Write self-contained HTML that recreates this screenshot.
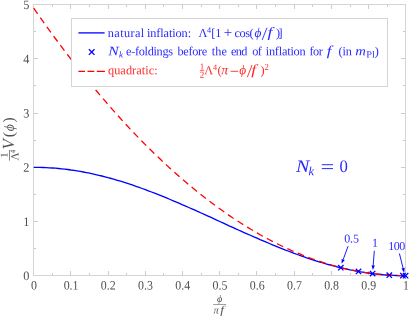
<!DOCTYPE html>
<html><head><meta charset="utf-8"><title>plot</title>
<style>
html,body{margin:0;padding:0;background:#fff;}
body{width:415px;height:316px;overflow:hidden;font-family:"Liberation Serif",serif;}
svg{display:block;will-change:transform;}
</style></head><body>
<svg width="415" height="316" viewBox="0 0 415 316">
<rect width="415" height="316" fill="#fff"/>
<path d="M33.5 275.5v-4.5M33.5 4.5v4.5M52.5 275.5v-2.5M52.5 4.5v2.5M70.5 275.5v-4.5M70.5 4.5v4.5M89.5 275.5v-2.5M89.5 4.5v2.5M108.5 275.5v-4.5M108.5 4.5v4.5M126.5 275.5v-2.5M126.5 4.5v2.5M145.5 275.5v-4.5M145.5 4.5v4.5M163.5 275.5v-2.5M163.5 4.5v2.5M182.5 275.5v-4.5M182.5 4.5v4.5M201.5 275.5v-2.5M201.5 4.5v2.5M219.5 275.5v-4.5M219.5 4.5v4.5M238.5 275.5v-2.5M238.5 4.5v2.5M256.5 275.5v-4.5M256.5 4.5v4.5M275.5 275.5v-2.5M275.5 4.5v2.5M294.5 275.5v-4.5M294.5 4.5v4.5M312.5 275.5v-2.5M312.5 4.5v2.5M331.5 275.5v-4.5M331.5 4.5v4.5M350.5 275.5v-2.5M350.5 4.5v2.5M368.5 275.5v-4.5M368.5 4.5v4.5M387.5 275.5v-2.5M387.5 4.5v2.5M405.5 275.5v-4.5M405.5 4.5v4.5M33.5 275.5h4.5M405.5 275.5h-4.5M33.5 248.5h2.5M405.5 248.5h-2.5M33.5 221.5h4.5M405.5 221.5h-4.5M33.5 194.5h2.5M405.5 194.5h-2.5M33.5 167.5h4.5M405.5 167.5h-4.5M33.5 140.5h2.5M405.5 140.5h-2.5M33.5 113.5h4.5M405.5 113.5h-4.5M33.5 85.5h2.5M405.5 85.5h-2.5M33.5 58.5h4.5M405.5 58.5h-4.5M33.5 31.5h2.5M405.5 31.5h-2.5M33.5 4.5h4.5M405.5 4.5h-4.5" stroke="rgba(0,0,0,0.2)" stroke-width="1" fill="none"/>
<rect x="33.5" y="4.5" width="372.0" height="271.0" fill="none" stroke="#d5d5d5" stroke-width="1"/>
<path d="M33.7 167.3L36.8 167.3L39.9 167.4L43.0 167.5L46.1 167.6L49.2 167.8L52.3 168.0L55.4 168.2L58.5 168.5L61.6 168.8L64.7 169.1L67.8 169.5L70.9 170.0L74.0 170.4L77.1 170.9L80.2 171.4L83.3 172.0L86.4 172.6L89.5 173.2L92.6 173.9L95.7 174.6L98.8 175.3L101.9 176.0L105.0 176.8L108.1 177.7L111.2 178.5L114.3 179.4L117.4 180.3L120.5 181.2L123.6 182.2L126.7 183.2L129.8 184.2L132.9 185.2L136.0 186.3L139.1 187.4L142.2 188.5L145.3 189.6L148.4 190.8L151.5 192.0L154.6 193.2L157.8 194.4L160.9 195.6L164.0 196.9L167.1 198.2L170.2 199.5L173.3 200.8L176.4 202.1L179.5 203.4L182.6 204.8L185.7 206.1L188.8 207.5L191.9 208.8L195.0 210.2L198.1 211.6L201.2 213.0L204.3 214.4L207.4 215.8L210.5 217.2L213.6 218.7L216.7 220.1L219.8 221.5L222.9 222.9L226.0 224.3L229.1 225.8L232.2 227.2L235.3 228.6L238.4 230.0L241.5 231.4L244.6 232.8L247.7 234.2L250.8 235.5L253.9 236.9L257.0 238.2L260.1 239.6L263.2 240.9L266.3 242.2L269.4 243.5L272.5 244.8L275.6 246.1L278.7 247.4L281.8 248.6L284.9 249.8L288.0 251.0L291.1 252.2L294.2 253.4L297.3 254.5L300.4 255.6L303.5 256.7L306.6 257.8L309.7 258.8L312.8 259.8L315.9 260.8L319.0 261.8L322.1 262.7L325.2 263.6L328.3 264.5L331.4 265.3L334.5 266.2L337.6 267.0L340.7 267.7L343.8 268.4L346.9 269.1L350.0 269.8L353.1 270.4L356.2 271.0L359.3 271.6L362.4 272.1L365.5 272.6L368.6 273.0L371.7 273.5L374.8 273.9L377.9 274.2L381.0 274.5L384.1 274.8L387.2 275.0L390.3 275.2L393.4 275.4L396.5 275.5L399.6 275.6L402.7 275.7L405.8 275.7" stroke="#00f" stroke-width="1.3" fill="none"/>
<path d="M33.7 8.2L36.8 12.7L39.9 17.1L43.0 21.4L46.1 25.8L49.2 30.1L52.3 34.3L55.4 38.5L58.5 42.7L61.6 46.8L64.7 51.0L67.8 55.0L70.9 59.1L74.0 63.0L77.1 67.0L80.2 70.9L83.3 74.8L86.4 78.6L89.5 82.5L92.6 86.2L95.7 90.0L98.8 93.7L101.9 97.3L105.0 100.9L108.1 104.5L111.2 108.1L114.3 111.6L117.4 115.1L120.5 118.5L123.6 121.9L126.7 125.3L129.8 128.6L132.9 131.9L136.0 135.1L139.1 138.3L142.2 141.5L145.3 144.6L148.4 147.7L151.5 150.8L154.6 153.8L157.8 156.8L160.9 159.8L164.0 162.7L167.1 165.6L170.2 168.4L173.3 171.2L176.4 174.0L179.5 176.7L182.6 179.4L185.7 182.1L188.8 184.7L191.9 187.3L195.0 189.8L198.1 192.3L201.2 194.8L204.3 197.2L207.4 199.6L210.5 202.0L213.6 204.3L216.7 206.6L219.8 208.8L222.9 211.0L226.0 213.2L229.1 215.4L232.2 217.5L235.3 219.5L238.4 221.5L241.5 223.5L244.6 225.5L247.7 227.4L250.8 229.3L253.9 231.1L257.0 232.9L260.1 234.7L263.2 236.4L266.3 238.1L269.4 239.7L272.5 241.4L275.6 242.9L278.7 244.5L281.8 246.0L284.9 247.4L288.0 248.9L291.1 250.3L294.2 251.6L297.3 252.9L300.4 254.2L303.5 255.5L306.6 256.7L309.7 257.9L312.8 259.0L315.9 260.1L319.0 261.1L322.1 262.2L325.2 263.1L328.3 264.1L331.4 265.0L334.5 265.9L337.6 266.7L340.7 267.5L343.8 268.3L346.9 269.0L350.0 269.7L353.1 270.3L356.2 270.9L359.3 271.5L362.4 272.1L365.5 272.6L368.6 273.0L371.7 273.5L374.8 273.8L377.9 274.2L381.0 274.5L384.1 274.8L387.2 275.0L390.3 275.2L393.4 275.4L396.5 275.5L399.6 275.6L402.7 275.7L405.8 275.7" stroke="#f00" stroke-width="1.3" fill="none" stroke-dasharray="6.8 4.6"/>
<path d="M338.1 265.0l5.4 5.4M338.1 270.4l5.4 -5.4" stroke="#00f" stroke-width="1.3" fill="none"/>
<path d="M355.8 268.7l5.4 5.4M355.8 274.1l5.4 -5.4" stroke="#00f" stroke-width="1.3" fill="none"/>
<path d="M369.9 270.9l5.4 5.4M369.9 276.3l5.4 -5.4" stroke="#00f" stroke-width="1.3" fill="none"/>
<path d="M386.6 272.5l5.4 5.4M386.6 277.9l5.4 -5.4" stroke="#00f" stroke-width="1.3" fill="none"/>
<path d="M400.2 273.0l5.4 5.4M400.2 278.4l5.4 -5.4" stroke="#00f" stroke-width="1.3" fill="none"/>
<path d="M402.9 273.0l5.4 5.4M402.9 278.4l5.4 -5.4" stroke="#00f" stroke-width="1.3" fill="none"/>
<path d="M348.1 246.2L343.2 259.5" stroke="#00f" stroke-width="0.9" fill="none"/><path d="M341.6 263.8L341.6 258.9L344.8 260.1Z" fill="#00f"/>
<path d="M374.3 250.8L373.2 265.4" stroke="#00f" stroke-width="0.9" fill="none"/><path d="M372.9 270.0L371.5 265.3L374.9 265.5Z" fill="#00f"/>
<path d="M399.4 253.5L403.1 268.2" stroke="#00f" stroke-width="0.9" fill="none"/><path d="M404.2 272.7L401.4 268.6L404.7 267.8Z" fill="#00f"/>
<rect x="71.5" y="18.5" width="316" height="68" fill="#fff" stroke="#d5d5d5" stroke-width="1"/>
<path d="M78.4 32.9H104.6" stroke="#00f" stroke-width="1.3"/>
<path d="M78.4 71.4H104.9" stroke="#f00" stroke-width="1.3" stroke-dasharray="6.6 2.5 6.8 2.5 8.4"/>
<path d="M88.9 49.3l5.6 5.6M88.9 54.9l5.6 -5.6" stroke="#00f" stroke-width="1.3" fill="none"/>
<g font-family="Liberation Serif, serif" >
<text transform="translate(33.9 289.4) rotate(0.06) scale(0.93 1)" font-size="12.8" fill="#505050" text-anchor="middle">0</text>
<text transform="translate(71.1 289.4) rotate(0.06) scale(0.93 1)" font-size="12.8" fill="#505050" text-anchor="middle">0.1</text>
<text transform="translate(108.3 289.4) rotate(0.06) scale(0.93 1)" font-size="12.8" fill="#505050" text-anchor="middle">0.2</text>
<text transform="translate(145.5 289.4) rotate(0.06) scale(0.93 1)" font-size="12.8" fill="#505050" text-anchor="middle">0.3</text>
<text transform="translate(182.8 289.4) rotate(0.06) scale(0.93 1)" font-size="12.8" fill="#505050" text-anchor="middle">0.4</text>
<text transform="translate(220.0 289.4) rotate(0.06) scale(0.93 1)" font-size="12.8" fill="#505050" text-anchor="middle">0.5</text>
<text transform="translate(257.2 289.4) rotate(0.06) scale(0.93 1)" font-size="12.8" fill="#505050" text-anchor="middle">0.6</text>
<text transform="translate(294.4 289.4) rotate(0.06) scale(0.93 1)" font-size="12.8" fill="#505050" text-anchor="middle">0.7</text>
<text transform="translate(331.6 289.4) rotate(0.06) scale(0.93 1)" font-size="12.8" fill="#505050" text-anchor="middle">0.8</text>
<text transform="translate(368.8 289.4) rotate(0.06) scale(0.93 1)" font-size="12.8" fill="#505050" text-anchor="middle">0.9</text>
<text transform="translate(406.0 289.4) rotate(0.06) scale(0.93 1)" font-size="12.8" fill="#505050" text-anchor="middle">1</text>
<text transform="translate(29.4 280.1) rotate(0.06) scale(0.96 1)" font-size="12.8" fill="#505050" text-anchor="end">0</text>
<text transform="translate(29.4 225.9) rotate(0.06) scale(0.96 1)" font-size="12.8" fill="#505050" text-anchor="end">1</text>
<text transform="translate(29.4 171.7) rotate(0.06) scale(0.96 1)" font-size="12.8" fill="#505050" text-anchor="end">2</text>
<text transform="translate(29.4 117.5) rotate(0.06) scale(0.96 1)" font-size="12.8" fill="#505050" text-anchor="end">3</text>
<text transform="translate(29.4 63.3) rotate(0.06) scale(0.96 1)" font-size="12.8" fill="#505050" text-anchor="end">4</text>
<text transform="translate(29.4 9.1) rotate(0.06) scale(0.96 1)" font-size="12.8" fill="#505050" text-anchor="end">5</text>
<text transform="translate(107.8 36.9) rotate(0.06)" font-size="12.3" fill="#2a2aff" textLength="36.4" lengthAdjust="spacing">natural</text>
<text transform="translate(147.0 36.9) rotate(0.06)" font-size="12.3" fill="#2a2aff" textLength="44.1" lengthAdjust="spacing">inflation:</text>
<text transform="translate(198.6 36.9) rotate(0.06)" font-size="12.3" fill="#2a2aff">Λ</text>
<text transform="translate(207.0 32.7) rotate(0.06)" font-size="8.2" fill="#2a2aff">4</text>
<text transform="translate(211.2 36.9) rotate(0.06)" font-size="12.3" fill="#2a2aff">[1</text>
<text transform="translate(223.8 37.5) rotate(0.06)" font-size="14.9" fill="#2a2aff">+</text>
<text transform="translate(234.4 36.9) rotate(0.06)" font-size="12.3" fill="#2a2aff" textLength="15.6" lengthAdjust="spacing">cos</text>
<text transform="translate(249.6 36.9) rotate(0.06)" font-size="12.3" fill="#2a2aff">(</text>
<text transform="translate(254.6 36.9) rotate(0.06)" font-size="13.3" fill="#2a2aff" font-style="italic">ϕ</text>
<path d="M262.2 39.9L267.0 27.7" stroke="#2a2aff" stroke-width="0.9" fill="none"/>
<text transform="translate(267.6 36.9) rotate(0.06) scale(1.25 1)" font-size="14.3" fill="#2a2aff" font-style="italic">f</text>
<text transform="translate(276.0 36.9) rotate(0.06)" font-size="12.3" fill="#2a2aff">)</text>
<text transform="translate(278.4 36.9) rotate(0.06)" font-size="12.3" fill="#2a2aff">]</text>
<text transform="translate(108.2 55.2) rotate(0.06) scale(1.22 1)" font-size="12.9" fill="#2a2aff" font-style="italic">N</text>
<text transform="translate(118.9 57.6) rotate(0.06)" font-size="9" fill="#2a2aff" font-style="italic">k</text>
<text transform="translate(126.1 55.2) rotate(0.06)" font-size="12.3" fill="#2a2aff" textLength="46.9" lengthAdjust="spacing">e-foldings</text>
<text transform="translate(177.4 55.2) rotate(0.06)" font-size="12.3" fill="#2a2aff" textLength="29.9" lengthAdjust="spacing">before</text>
<text transform="translate(211.7 55.2) rotate(0.06)" font-size="12.3" fill="#2a2aff" textLength="15.3" lengthAdjust="spacing">the</text>
<text transform="translate(231.0 55.2) rotate(0.06)" font-size="12.3" fill="#2a2aff" textLength="16.5" lengthAdjust="spacing">end</text>
<text transform="translate(252.2 55.2) rotate(0.06)" font-size="12.3" fill="#2a2aff" textLength="9.6" lengthAdjust="spacing">of</text>
<text transform="translate(265.7 55.2) rotate(0.06)" font-size="12.3" fill="#2a2aff" textLength="40.0" lengthAdjust="spacing">inflation</text>
<text transform="translate(309.5 55.2) rotate(0.06)" font-size="12.3" fill="#2a2aff" textLength="13.4" lengthAdjust="spacing">for</text>
<text transform="translate(326.8 55.2) rotate(0.06) scale(1.22 1)" font-size="13.9" fill="#2a2aff" font-style="italic">f</text>
<text transform="translate(338.6 55.2) rotate(0.06)" font-size="12.3" fill="#2a2aff" textLength="13.2" lengthAdjust="spacing">(in</text>
<text transform="translate(355.2 55.2) rotate(0.06) scale(1.14 1)" font-size="12.9" fill="#2a2aff" font-style="italic">m</text>
<text transform="translate(366.2 57.5) rotate(0.06) scale(1.1 1)" font-size="9.4" fill="#2a2aff">Pl</text>
<text transform="translate(374.8 55.2) rotate(0.06)" font-size="12.3" fill="#2a2aff">)</text>
<text transform="translate(108.0 74.2) rotate(0.06)" font-size="12.3" fill="#ff2a2a" textLength="49.6" lengthAdjust="spacing">quadratic:</text>
<text transform="translate(199.8 69.4) rotate(0.06)" font-size="9" fill="#ff2a2a">1</text>
<path d="M199.7 70.7h4.6" stroke="#ff2a2a" stroke-width="0.7"/>
<text transform="translate(199.8 77.8) rotate(0.06)" font-size="9" fill="#ff2a2a">2</text>
<text transform="translate(204.2 74.2) rotate(0.06)" font-size="12.3" fill="#ff2a2a">Λ</text>
<text transform="translate(213.0 70.0) rotate(0.06)" font-size="8.2" fill="#ff2a2a">4</text>
<text transform="translate(217.6 74.2) rotate(0.06)" font-size="12.3" fill="#ff2a2a">(</text>
<text transform="translate(221.2 74.2) rotate(0.06)" font-size="13.8" fill="#ff2a2a" font-style="italic">π</text>
<path d="M230.6 71.3H238.2" stroke="#ff2a2a" stroke-width="0.9"/>
<text transform="translate(239.2 74.2) rotate(0.06)" font-size="13.3" fill="#ff2a2a" font-style="italic">ϕ</text>
<path d="M247.3 77.2L252.1 65.0" stroke="#ff2a2a" stroke-width="0.9" fill="none"/>
<text transform="translate(251.2 74.2) rotate(0.06) scale(1.25 1)" font-size="14.3" fill="#ff2a2a" font-style="italic">f</text>
<text transform="translate(260.6 74.2) rotate(0.06)" font-size="12.3" fill="#ff2a2a">)</text>
<text transform="translate(264.6 69.8) rotate(0.06)" font-size="8.8" fill="#ff2a2a">2</text>
<text transform="translate(296.0 171.9) rotate(0.06) scale(1.14 1)" font-size="17.6" fill="#2a2aff" font-style="italic">N</text>
<text transform="translate(308.6 175.2) rotate(0.06)" font-size="12.4" fill="#2a2aff" font-style="italic">k</text>
<path d="M321.8 164.7H333M321.8 168.6H333" stroke="#2a2aff" stroke-width="1"/>
<text transform="translate(339.5 171.9) rotate(0.06) scale(0.96 1)" font-size="17.4" fill="#2a2aff">0</text>
<text transform="translate(344.2 242.5) rotate(0.06)" font-size="12" fill="#2a2aff" textLength="14.8" lengthAdjust="spacing">0.5</text>
<text transform="translate(371.9 246.8) rotate(0.06)" font-size="12" fill="#2a2aff">1</text>
<text transform="translate(388.2 250.1) rotate(0.06)" font-size="12" fill="#2a2aff" textLength="17.0" lengthAdjust="spacing">100</text>
<text transform="translate(219.6 302.0) rotate(0.06)" font-size="10.2" fill="#505050" font-style="italic" text-anchor="middle">ϕ</text>
<path d="M213.2 304.5H226.1" stroke="#777" stroke-width="0.7"/>
<text transform="translate(213.4 313.4) rotate(0.06)" font-size="10.5" fill="#505050" font-style="italic">π</text>
<text transform="translate(220.2 313.4) rotate(0.06) scale(1.2 1)" font-size="11.2" fill="#505050" font-style="italic">f</text>
<g transform="translate(15.6,161.9) rotate(-90)">
<text transform="translate(6.7 -8.0) rotate(0.06)" font-size="10.4" fill="#505050" text-anchor="middle">1</text>
<path d="M1.2 -6.1H12.0" stroke="#666" stroke-width="0.8"/>
<text transform="translate(1.4 3.0) rotate(0.06)" font-size="11" fill="#505050">Λ</text>
<text transform="translate(8.4 -0.4) rotate(0.06)" font-size="7.4" fill="#505050">4</text>
<text transform="translate(12.4 -1.5) rotate(0.06)" font-size="17" fill="#505050" font-style="italic">V</text>
<text transform="translate(24.7 -1.9) rotate(0.06)" font-size="15.6" fill="#505050">(</text>
<text transform="translate(30.6 -1.9) rotate(0.06)" font-size="13.8" fill="#505050" font-style="italic">ϕ</text>
<text transform="translate(39.3 -1.9) rotate(0.06)" font-size="15.6" fill="#505050">)</text>
</g>
</g>
</svg>
</body></html>
